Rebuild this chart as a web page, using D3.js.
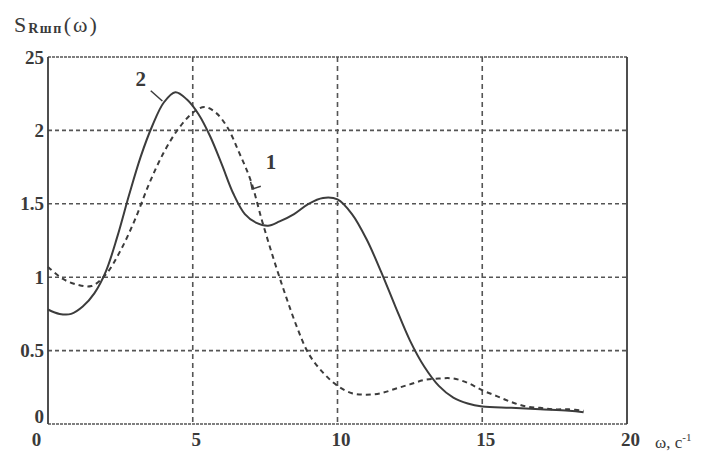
<!DOCTYPE html>
<html>
<head>
<meta charset="utf-8">
<script src="https://cdn.jsdelivr.net/npm/d3@7"></script>
<style>
  body { margin: 0; background: #fff; }
  text { font-family: 'Liberation Serif', 'DejaVu Serif', serif; fill: #3a3a3a; }
</style>
</head>
<body>
<div id="chart"></div>
<script>
// Data
const omega1 = [0, 0.5, 1, 1.5, 2, 2.5, 3, 3.5, 4, 4.5, 5, 5.4, 5.8, 6.2, 6.6, 7, 7.4, 7.8, 8.2, 8.6, 9, 9.5, 10, 10.5, 11, 11.5, 12, 12.5, 13, 13.5, 14, 14.5, 15, 15.5, 16, 16.5, 17, 17.5, 18, 18.5]
const curve1 = [1.07, 0.99, 0.95, 0.94, 1.02, 1.18, 1.39, 1.64, 1.85, 2.01, 2.12, 2.16, 2.12, 2.02, 1.85, 1.66, 1.38, 1.12, 0.88, 0.66, 0.48, 0.35, 0.26, 0.21, 0.2, 0.21, 0.24, 0.27, 0.3, 0.31, 0.31, 0.28, 0.23, 0.19, 0.15, 0.12, 0.11, 0.1, 0.1, 0.09]

const omega2 = [0, 0.4, 0.8, 1.2, 1.6, 2, 2.4, 2.8, 3.2, 3.6, 4, 4.4, 4.8, 5.2, 5.6, 6, 6.4, 6.8, 7.2, 7.6, 8, 8.5, 9, 9.5, 10, 10.5, 11, 11.5, 12, 12.5, 13, 13.5, 14, 14.5, 15, 16, 17, 18, 18.5]
const curve2 = [0.78, 0.75, 0.75, 0.8, 0.89, 1.04, 1.28, 1.56, 1.82, 2.03, 2.19, 2.26, 2.21, 2.11, 1.96, 1.77, 1.57, 1.43, 1.37, 1.35, 1.38, 1.43, 1.5, 1.54, 1.53, 1.43, 1.26, 1.04, 0.8, 0.57, 0.39, 0.26, 0.18, 0.14, 0.12, 0.11, 0.1, 0.09, 0.08]

const xTicks = [0, 5, 10, 15, 20]
const yTicks = [0, 0.5, 1, 1.5, 2, 2.5]
const yTickLabels = ['0', '0.5', '1', '1.5', '2', '25']

// Dimensions
const width = 714
const height = 459
const margin = { top: 57, right: 87, bottom: 35, left: 48 }
const ctrWidth = width - margin.left - margin.right
const ctrHeight = height - margin.top - margin.bottom

const svg = d3.select('#chart')
  .append('svg')
  .attr('width', width)
  .attr('height', height)

const ctr = svg.append('g')
  .attr('transform', `translate(${margin.left}, ${margin.top})`)

// Scales
const xScale = d3.scaleLinear().domain([0, 20]).range([0, ctrWidth])
const yScale = d3.scaleLinear().domain([0, 2.5]).range([ctrHeight, 0])

const ink = '#3c3c3c'

// Grid
ctr.append('g')
  .selectAll('line')
  .data(yTicks.slice(1, -1))
  .join('line')
  .attr('x1', 0)
  .attr('x2', ctrWidth)
  .attr('y1', d => yScale(d))
  .attr('y2', d => yScale(d))
  .attr('stroke', '#555')
  .attr('stroke-width', 1.6)
  .attr('stroke-dasharray', '4,3')

ctr.append('g')
  .selectAll('line')
  .data(xTicks.slice(1, -1))
  .join('line')
  .attr('x1', d => xScale(d))
  .attr('x2', d => xScale(d))
  .attr('y1', 0)
  .attr('y2', ctrHeight)
  .attr('stroke', '#555')
  .attr('stroke-width', 1.6)
  .attr('stroke-dasharray', '5,4')

// Frame: top and bottom look dotted, sides solid
ctr.append('line')
  .attr('x1', 0).attr('x2', ctrWidth)
  .attr('y1', yScale(2.5)).attr('y2', yScale(2.5))
  .attr('stroke', '#555').attr('stroke-width', 1.6)
  .attr('stroke-dasharray', '3,1')
ctr.append('line')
  .attr('x1', 0).attr('x2', ctrWidth)
  .attr('y1', yScale(0)).attr('y2', yScale(0))
  .attr('stroke', '#555').attr('stroke-width', 1.6)
  .attr('stroke-dasharray', '3,1')
ctr.append('line')
  .attr('x1', 0).attr('x2', 0)
  .attr('y1', 0).attr('y2', ctrHeight)
  .attr('stroke', ink).attr('stroke-width', 1.8)
ctr.append('line')
  .attr('x1', ctrWidth).attr('x2', ctrWidth)
  .attr('y1', 0).attr('y2', ctrHeight)
  .attr('stroke', ink).attr('stroke-width', 1.8)

// Curves
const line = d3.line()
  .x(d => xScale(d[0]))
  .y(d => yScale(d[1]))
  .curve(d3.curveCatmullRom)

ctr.append('path')
  .datum(d3.zip(omega1, curve1))
  .attr('d', line)
  .attr('fill', 'none')
  .attr('stroke', ink)
  .attr('stroke-width', 2)
  .attr('stroke-dasharray', '5,4')

ctr.append('path')
  .datum(d3.zip(omega2, curve2))
  .attr('d', line)
  .attr('fill', 'none')
  .attr('stroke', ink)
  .attr('stroke-width', 2)

// Axes labels
const yAxis = d3.axisLeft(yScale)
  .tickValues(yTicks)
  .tickSize(0)
  .tickPadding(4)
  .tickFormat((d, i) => yTickLabels[i])
const yG = ctr.append('g').call(yAxis)
yG.select('.domain').remove()
yG.selectAll('text')
  .style('font-size', '19px')
  .style('font-weight', 'bold')
  .attr('fill', ink)
  .attr('dy', d => (d === 0 ? '-0.1em' : '0.32em'))

const xAxis = d3.axisBottom(xScale)
  .tickValues(xTicks)
  .tickSize(0)
  .tickPadding(9)
const xG = ctr.append('g')
  .attr('transform', `translate(0, ${ctrHeight})`)
  .call(xAxis)
xG.select('.domain').remove()
xG.selectAll('text')
  .style('font-size', '19px')
  .style('font-weight', 'bold')
  .attr('fill', ink)
  .attr('dx', d => (d === 0 ? -12 : 3))

// Curve labels with leader lines
ctr.append('text')
  .attr('x', xScale(3.2))
  .attr('y', yScale(2.3))
  .attr('text-anchor', 'middle')
  .style('font-size', '21px')
  .style('font-weight', 'bold')
  .text('2')
ctr.append('line')
  .attr('x1', xScale(3.55)).attr('y1', yScale(2.27))
  .attr('x2', xScale(3.95)).attr('y2', yScale(2.2))
  .attr('stroke', ink).attr('stroke-width', 1.5)

ctr.append('text')
  .attr('x', xScale(7.7))
  .attr('y', yScale(1.74))
  .attr('text-anchor', 'middle')
  .style('font-size', '21px')
  .style('font-weight', 'bold')
  .text('1')
ctr.append('polyline')
  .attr('points', [[7.0, 1.65], [7.05, 1.6], [7.35, 1.62]].map(p => [xScale(p[0]), yScale(p[1])].join(',')).join(' '))
  .attr('fill', 'none')
  .attr('stroke', ink).attr('stroke-width', 1.5)

// Axis titles
const yTitle = svg.append('text')
  .attr('x', 14)
  .attr('y', 32)
  .style('font-size', '22px')
  .attr('fill', ink)
yTitle.append('tspan').text('S')
yTitle.append('tspan')
  .attr('dx', 2)
  .attr('dy', 1)
  .style('font-size', '14px')
  .style('font-weight', 'bold')
  .style('letter-spacing', '1.5px')
  .text('Rшп')
yTitle.append('tspan')
  .attr('dx', 1)
  .attr('dy', -1)
  .style('letter-spacing', '2px')
  .text('(ω)')

const xTitle = svg.append('text')
  .attr('x', 655)
  .attr('y', 448)
  .style('font-size', '17px')
  .attr('fill', ink)
xTitle.append('tspan').text('ω, c')
xTitle.append('tspan').style('font-size', '11px').attr('dy', -7).text('-1')
</script>
</body>
</html>
